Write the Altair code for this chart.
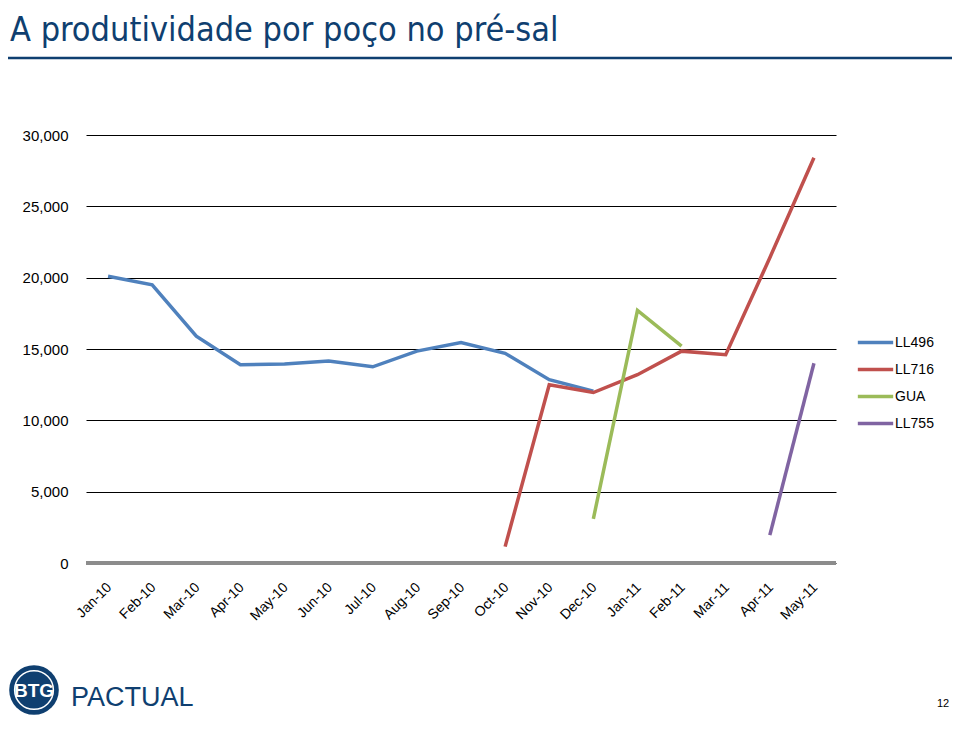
import altair as alt
import pandas as pd

# ---------------- data ----------------
months = ["Jan-10", "Feb-10", "Mar-10", "Apr-10", "May-10", "Jun-10", "Jul-10",
          "Aug-10", "Sep-10", "Oct-10", "Nov-10", "Dec-10", "Jan-11", "Feb-11",
          "Mar-11", "Apr-11", "May-11"]

series_names = ["LL496", "LL716", "GUA", "LL755"]
series_colors = ["#4F81BD", "#C0504D", "#9BBB59", "#8064A2"]

ll496_months = months[0:12]
ll496_values = [20100, 19500, 15900, 13900, 13950, 14150, 13750, 14850, 15450, 14700, 12850, 12050]

ll716_months = months[9:17]
ll716_values = [1150, 12500, 11950, 13200, 14850, 14600, 21400, 28400]

gua_months = months[11:14]
gua_values = [3100, 17700, 15200]

ll755_months = months[15:17]
ll755_values = [1950, 14000]

y_ticks = [0, 5000, 10000, 15000, 20000, 25000, 30000]

title_text = ["A produtividade por poço no pré-sal"]
logo_mark = ["BTG"]
logo_text = ["PACTUAL"]
page_number = ["12"]

rows = []
for name, ms, vs in [("LL496", ll496_months, ll496_values),
                     ("LL716", ll716_months, ll716_values),
                     ("GUA", gua_months, gua_values),
                     ("LL755", ll755_months, ll755_values)]:
    for m, v in zip(ms, vs):
        rows.append({"series": name, "month": m, "value": v})
df = pd.DataFrame(rows)

NAVY = "#0F3F70"
FONT = "Liberation Sans"
NARROW = "Liberation Sans Narrow, DejaVu Sans Condensed, sans-serif"

y_axis = alt.Axis(values=y_ticks, format=",.0f", labelExpr="format(datum.value, ',')",
                  domain=False, ticks=False,
                  grid=True, gridColor="#000000", gridWidth=1,
                  labelFontSize=15, labelFont=FONT, labelColor="#000000",
                  labelPadding=18)
y_scale = alt.Scale(domain=[0, 30000], nice=False)

x_enc = alt.X("month:O", sort=months, title=None,
              scale=alt.Scale(domain=months, type="point", padding=0.5),
              axis=alt.Axis(labelAngle=-45, domain=False, ticks=False,
                            labelFontSize=14, labelFont=FONT, labelColor="#000000",
                            labelPadding=17, labelOffset=-4, grid=False))

lines = alt.Chart(df).mark_line(strokeWidth=3.5).encode(
    x=x_enc,
    y=alt.Y("value:Q", title=None, scale=y_scale, axis=y_axis),
    color=alt.Color("series:N",
                    scale=alt.Scale(domain=series_names, range=series_colors),
                    legend=alt.Legend(title=None, orient="none", legendX=770, legendY=188,
                                      symbolType="stroke", symbolStrokeWidth=3.5,
                                      symbolSize=1250, labelFontSize=14, labelFont=FONT,
                                      labelColor="#000000", labelOffset=0, rowPadding=-2)),
    detail="series:N",
)

zero_rule = alt.Chart(pd.DataFrame({"value": [0]})).mark_rule(
    color="#8C8C8C", strokeWidth=4).encode(
    y=alt.Y("value:Q", title=None, scale=y_scale, axis=y_axis))

title = alt.Chart(pd.DataFrame({"t": title_text})).mark_text(
    align="left", baseline="alphabetic", fontSize=34, font=NARROW, color=NAVY
).encode(x=alt.value(-76), y=alt.value(-94), text="t:N")

title_rule = alt.Chart(pd.DataFrame({"t": title_text})).mark_rule(
    color=NAVY, strokeWidth=2.5
).encode(x=alt.value(-78), x2=alt.value(866), y=alt.value(-77))

logo_circle = alt.Chart(pd.DataFrame({"t": logo_mark})).mark_point(
    shape="circle", filled=True, color=NAVY, opacity=1
).encode(x=alt.value(-52), y=alt.value(555), size=alt.value(2460))

logo_ring = alt.Chart(pd.DataFrame({"t": logo_mark})).mark_point(
    shape="circle", filled=False, color="#FFFFFF", strokeWidth=1.5, opacity=1
).encode(x=alt.value(-52), y=alt.value(555), size=alt.value(1500))

logo_btg = alt.Chart(pd.DataFrame({"t": logo_mark})).mark_text(
    align="center", baseline="middle", fontSize=19, fontWeight="bold",
    font=FONT, color="#FFFFFF"
).encode(x=alt.value(-52), y=alt.value(556), text="t:N")

logo_word = alt.Chart(pd.DataFrame({"t": logo_text})).mark_text(
    align="left", baseline="alphabetic", fontSize=27, font=FONT, color=NAVY
).encode(x=alt.value(-15), y=alt.value(571), text="t:N")

page_num = alt.Chart(pd.DataFrame({"t": page_number})).mark_text(
    align="center", baseline="alphabetic", fontSize=11, font=FONT, color="#000000"
).encode(x=alt.value(857), y=alt.value(572), text="t:N")

chart = alt.layer(
    lines, zero_rule, title, title_rule, logo_circle, logo_ring, logo_btg, logo_word, page_num
).properties(
    width=750, height=428,
    autosize=alt.AutoSizeParams(type="none"),
    padding={"left": 78, "top": 127, "right": 116, "bottom": 156},
    background="#FFFFFF",
).configure_view(stroke=None)

chart.save("out.html", embed_options={"renderer": "svg", "actions": False})
